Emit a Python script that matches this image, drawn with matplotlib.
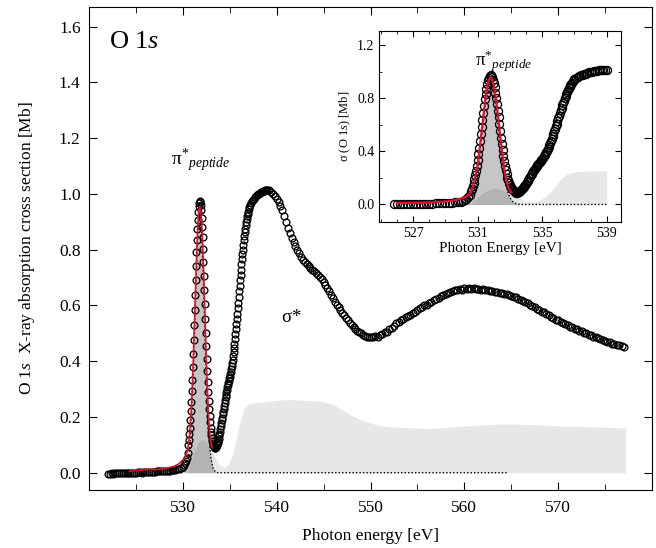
import numpy as np
import matplotlib
matplotlib.use("Agg")
import matplotlib.pyplot as plt
from matplotlib.ticker import MultipleLocator

plt.rcParams['font.family'] = ['Liberation Serif', 'DejaVu Serif']
plt.rcParams['mathtext.fontset'] = 'custom'
plt.rcParams['mathtext.rm'] = 'Liberation Serif'
plt.rcParams['mathtext.it'] = 'Liberation Serif:italic'

# measured O 1s cross section, sampled in segments (start, step, values)
segments = [
    (522.0, 0.2, [-0.003, -0.003, -0.002, -0.003, -0.002, -0.002, -0.002, -0.001, -0.002, -0.001,
                  -0.001, 0.0, 0.0, -0.001, 0.0, 0.0, 0.001, 0.001, 0.0, 0.001,
                  0.002, 0.003, 0.004, 0.003, 0.004, 0.004, 0.005, 0.005, 0.005, 0.006,
                  0.006, 0.007, 0.008, 0.008, 0.009, 0.010, 0.011, 0.013, 0.015, 0.018]),
    (530.0, 0.1, [0.022, 0.028, 0.034, 0.041, 0.054, 0.072, 0.100]),
    (530.65, 0.05, [0.117, 0.138, 0.162, 0.189, 0.220, 0.253, 0.292, 0.334,
                    0.378, 0.427, 0.477, 0.530, 0.584, 0.638, 0.691, 0.743, 0.793, 0.836,
                    0.874, 0.908, 0.935, 0.955, 0.969, 0.975, 0.971, 0.960, 0.942, 0.915,
                    0.882, 0.844, 0.803, 0.757, 0.707, 0.656, 0.604, 0.553, 0.502, 0.454,
                    0.407, 0.365, 0.325, 0.288, 0.257, 0.228, 0.203, 0.181, 0.162, 0.147]),
    (533.05, 0.05, [0.134, 0.124, 0.115, 0.108, 0.101, 0.096, 0.092, 0.090, 0.089, 0.091,
                    0.094, 0.098, 0.103, 0.108, 0.115, 0.122, 0.130, 0.138, 0.147, 0.157,
                    0.167, 0.177, 0.188, 0.198, 0.209, 0.219, 0.230, 0.240, 0.250, 0.260,
                    0.270, 0.280, 0.289, 0.298, 0.307, 0.315, 0.323, 0.330, 0.338, 0.345,
                    0.353, 0.362, 0.372, 0.382, 0.393, 0.405, 0.418, 0.432, 0.447, 0.462,
                    0.479, 0.496, 0.514, 0.532, 0.551, 0.570, 0.590, 0.610, 0.630, 0.650,
                    0.670, 0.690, 0.709, 0.728, 0.747, 0.765, 0.783, 0.800, 0.817, 0.833,
                    0.848, 0.862, 0.875, 0.888, 0.899, 0.910, 0.919, 0.928, 0.936, 0.944]),
    (537.1, 0.1, [0.952, 0.960, 0.967, 0.973, 0.978, 0.983, 0.987, 0.991, 0.995, 0.998,
                  1.001, 1.004, 1.006, 1.008, 1.010, 1.011, 1.012, 1.013, 1.014, 1.014]),
    (539.2, 0.2, [1.013, 1.008, 1.001, 0.993, 0.982, 0.971, 0.958, 0.941, 0.921, 0.898,
                  0.877, 0.859, 0.843, 0.828, 0.814, 0.800, 0.787, 0.775, 0.764, 0.755,
                  0.748, 0.741, 0.735, 0.728, 0.722, 0.716, 0.709, 0.702, 0.694, 0.685,
                  0.674, 0.662, 0.650, 0.638, 0.626, 0.614, 0.603, 0.593, 0.583, 0.573,
                  0.564, 0.555, 0.546, 0.538, 0.530, 0.523, 0.516, 0.510, 0.505, 0.500,
                  0.495, 0.491, 0.488, 0.487, 0.486]),
    (550.25, 0.25, [0.486, 0.490, 0.488, 0.495, 0.497, 0.505, 0.503, 0.515, 0.519, 0.527,
                    0.536, 0.540, 0.548, 0.552, 0.558, 0.563, 0.566, 0.574, 0.577, 0.583,
                    0.589, 0.593, 0.600, 0.603, 0.610, 0.613, 0.620, 0.624, 0.628, 0.634,
                    0.636, 0.642, 0.644, 0.649, 0.650, 0.654, 0.655, 0.658, 0.657, 0.661,
                    0.660, 0.662, 0.660, 0.662, 0.659, 0.660, 0.657, 0.658, 0.654, 0.655,
                    0.651, 0.652, 0.648, 0.649, 0.644, 0.645, 0.640, 0.641, 0.636, 0.635,
                    0.630, 0.629, 0.622, 0.621, 0.615, 0.612, 0.607, 0.603, 0.598, 0.594,
                    0.588, 0.585, 0.578, 0.575, 0.568, 0.565, 0.559, 0.556, 0.549, 0.547,
                    0.540, 0.538, 0.532, 0.530, 0.524, 0.522, 0.516, 0.514, 0.509, 0.507,
                    0.502, 0.500, 0.495, 0.493, 0.488, 0.487, 0.482, 0.480, 0.475, 0.474,
                    0.469, 0.468, 0.463, 0.462, 0.458, 0.457, 0.453, 0.452]),
]
energy = np.concatenate([s + d * np.arange(len(v)) for s, d, v in segments])
sigma = np.concatenate([v for s, d, v in segments])

# fit curve (red)
fit_energy = [524.3, 525.0, 525.5, 526.0, 526.5, 527.0, 527.5, 528.0, 528.5, 529.0,
              529.5, 530.0, 530.3, 530.5, 530.7, 530.9, 531.0, 531.1, 531.2, 531.3,
              531.4, 531.5, 531.6, 531.7, 531.8, 531.9, 532.0, 532.1, 532.2, 532.3,
              532.4, 532.5, 532.6, 532.7, 532.8, 532.9, 533.0, 533.1]
fit_sigma = [0.005, 0.008, 0.010, 0.010, 0.012, 0.011, 0.013, 0.014, 0.018, 0.022,
             0.030, 0.045, 0.060, 0.080, 0.130, 0.230, 0.300, 0.390, 0.500, 0.600,
             0.710, 0.810, 0.890, 0.940, 0.955, 0.940, 0.900, 0.830, 0.740, 0.630,
             0.520, 0.410, 0.310, 0.230, 0.170, 0.130, 0.105, 0.090]

# pi* gaussian component (dotted outline)
gauss_energy = [529.8, 530.0, 530.2, 530.4, 530.6, 530.7, 530.8, 530.9, 531.0, 531.1,
                531.2, 531.3, 531.4, 531.5, 531.6, 531.7, 531.8, 531.9, 532.0, 532.1,
                532.2, 532.3, 532.4, 532.5, 532.6, 532.7, 532.8, 532.9, 533.0, 533.2,
                533.4, 533.6, 533.8, 564.6]
gauss_sigma = [0.0, 0.0015, 0.006, 0.018, 0.052, 0.083, 0.126, 0.184, 0.259, 0.349,
               0.453, 0.564, 0.675, 0.777, 0.858, 0.912, 0.930, 0.912, 0.858, 0.777,
               0.675, 0.564, 0.453, 0.349, 0.259, 0.184, 0.126, 0.083, 0.052, 0.018,
               0.006, 0.0015, 0.0, 0.0]

# continuum / sigma* background (light grey)
bg_energy = [530.3, 530.6, 530.9, 531.2, 531.5, 531.8, 532.1, 532.4, 532.7, 533.0,
             533.3, 533.6, 533.9, 534.2, 534.5, 534.8, 535.1, 535.4, 535.7, 536.0,
             536.3, 536.6, 537.0, 537.5, 538.0, 539.0, 540.0, 541.0, 542.0, 543.0,
             544.0, 545.0, 546.0, 547.0, 548.0, 549.0, 550.0, 551.0, 552.0, 553.0,
             554.0, 555.0, 556.0, 557.0, 558.0, 559.0, 560.0, 561.0, 562.0, 563.0,
             564.0, 565.0, 566.0, 567.0, 568.0, 569.0, 570.0, 571.0, 572.0, 573.0,
             574.0, 575.0, 576.0, 577.2]
bg_sigma = [0.0, 0.010, 0.040, 0.075, 0.100, 0.115, 0.120, 0.115, 0.100, 0.085,
            0.065, 0.045, 0.030, 0.022, 0.020, 0.030, 0.050, 0.080, 0.120, 0.170,
            0.210, 0.235, 0.245, 0.250, 0.252, 0.255, 0.260, 0.262, 0.262, 0.260,
            0.258, 0.255, 0.245, 0.225, 0.205, 0.190, 0.178, 0.170, 0.165, 0.163,
            0.162, 0.160, 0.158, 0.160, 0.162, 0.165, 0.167, 0.170, 0.172, 0.173,
            0.175, 0.175, 0.174, 0.173, 0.172, 0.170, 0.168, 0.167, 0.166, 0.165,
            0.164, 0.163, 0.162, 0.160]

gauss_energy = np.array(gauss_energy)
gauss_sigma = np.array(gauss_sigma)
bg_energy = np.array(bg_energy)
bg_sigma = np.array(bg_sigma)
fit_energy = np.array(fit_energy)
fit_sigma = np.array(fit_sigma)

RED = '#e0102e'
GAUSS_GREY = '#c6c6c6'
PI_LABEL = r'$\mathrm{\pi}^{*}{}_{peptide}$'


def draw_spectrum(ax, e, s, fe, fs, ge, gs, be, bs, ms, red_lw):
    ax.fill_between(ge, 0, gs, color=GAUSS_GREY, lw=0, zorder=1)
    ax.fill_between(be, 0, bs, color='black', alpha=0.095, lw=0, zorder=2)
    ax.plot(ge, gs, ls=(0, (1, 1.5)), color='black', lw=1.0, zorder=3)
    ax.plot(e, s, 'o', mfc='none', mec='black', ms=ms, mew=0.95, zorder=4)
    ax.plot(fe, fs, color=RED, lw=red_lw, zorder=5)


fig = plt.figure(figsize=(6.56, 5.48), dpi=100)
ax = fig.add_axes([0.1357, 0.1058, 0.8582, 0.8814])

draw_spectrum(ax, energy, sigma, fit_energy, fit_sigma,
              gauss_energy, gauss_sigma, bg_energy, bg_sigma, 4.9, 1.2)

ax.set_xlim(520, 580)
ax.set_ylim(-0.062, 1.67)
ax.set_xticks([530, 540, 550, 560, 570])
ax.xaxis.set_minor_locator(MultipleLocator(5))
ax.yaxis.set_major_locator(MultipleLocator(0.2))
ax.tick_params(which='both', direction='in', top=True, right=True, labelsize=12.5)
ax.tick_params(which='major', length=6)
ax.tick_params(which='minor', length=4)
ax.tick_params(axis='x', pad=7)
ax.tick_params(axis='y', pad=6)
ax.set_xlabel('Photon energy [eV]', fontsize=12.5, labelpad=9)
ax.set_ylabel(r'O 1$\mathit{s}$  X-ray absorption cross section [Mb]', fontsize=12.5, labelpad=16)

ax.text(522.1, 1.545, r'O 1$\mathit{s}$', fontsize=19, va='center')
ax.text(528.7, 1.12, PI_LABEL, fontsize=14, va='center')
ax.text(540.5, 0.555, r'$\mathrm{\sigma}$*', fontsize=13.5, va='center')

# inset: zoom on the pi* resonance
ins = fig.add_axes([0.578, 0.5954, 0.369, 0.3486])
lo, hi = 525.8, 539.0
m = (energy >= lo) & (energy <= hi)
fm = fit_energy >= lo
ge_in = np.append(gauss_energy[gauss_energy < hi], hi)
gs_in = np.interp(ge_in, gauss_energy, gauss_sigma)
be_in = np.append(bg_energy[bg_energy < hi], hi)
bs_in = np.interp(be_in, bg_energy, bg_sigma)
draw_spectrum(ins, energy[m], sigma[m], fit_energy[fm], fit_sigma[fm],
              ge_in, gs_in, be_in, bs_in, 5.8, 1.6)

ins.set_xlim(524.9, 539.9)
ins.set_ylim(-0.13, 1.31)
ins.set_xticks([527, 531, 535, 539])
ins.xaxis.set_minor_locator(MultipleLocator(1))
ins.set_yticks([0.0, 0.4, 0.8, 1.2])
ins.yaxis.set_minor_locator(MultipleLocator(0.2))
ins.tick_params(which='both', direction='in', top=True, right=True, labelsize=10)
ins.tick_params(which='major', length=4)
ins.tick_params(which='minor', length=2.5)
ins.set_xlabel('Photon Energy [eV]', fontsize=11, labelpad=2)
ins.set_ylabel(r'$\mathrm{\sigma}$ (O 1$\mathit{s}$) [Mb]', fontsize=9, labelpad=3)
ins.text(530.86, 1.077, PI_LABEL, fontsize=13.5, va='center')

fig.savefig('out.png', dpi=100)
